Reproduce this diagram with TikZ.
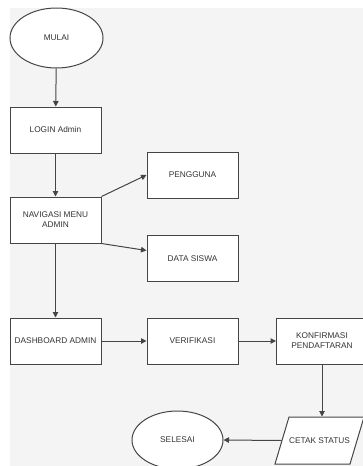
\documentclass[tikz,border=0pt]{standalone}
\usepackage{fontspec}
\setmainfont{Liberation Sans}
\usetikzlibrary{shapes.geometric, arrows.meta}
\definecolor{garis}{HTML}{454545}
\definecolor{teks}{HTML}{333333}
\definecolor{latar}{HTML}{F4F4F4}

\tikzset{
    proses/.style={draw=garis, fill=white, line width=1pt, minimum width=91pt, minimum height=46pt,
        inner sep=1pt, align=center, text=teks, font=\fontsize{8.3}{10}\selectfont},
    terminal/.style={proses, ellipse},
    dataio/.style={proses, draw=none, fill=none, minimum width=89pt, minimum height=47pt},
    panah/.style={draw=garis, line width=1pt, -{Triangle[length=5.5pt, width=5.5pt]}}
}

\begin{document}
\begin{tikzpicture}[x=1pt, y=-1pt]
                \useasboundingbox (0,0) rectangle (363,466);
                \fill[latar] (10,8) rectangle (363,466);
                \node[terminal, minimum width=93pt, minimum height=60pt] (mulai) at (56.5,38) {MULAI};
                \node[proses] (login) at (55.5,130) {LOGIN Admin};
                \node[proses] (navigasi) at (55.5,220) {NAVIGASI MENU\\ADMIN};
                \node[proses] (pengguna) at (192.5,175) {PENGGUNA};
                \node[proses] (datasiswa) at (192.5,258.5) {DATA SISWA};
                \node[proses] (dashboard) at (55.5,341) {DASHBOARD ADMIN};
                \node[proses] (verifikasi) at (192.5,341) {VERIFIKASI};
                \node[proses] (konfirmasi) at (322,341) {KONFIRMASI\\PENDAFTARAN};
                % jajaran genjang untuk cetak status
                \filldraw[fill=white, draw=garis, line width=1pt] (289,417) -- (364,417) -- (350,464) -- (275,464) -- cycle;
                \node[dataio] (cetak) at (319.5,440.5) {CETAK STATUS};
                \node[terminal, minimum width=91pt, minimum height=58pt] (selesai) at (177.5,440) {SELESAI};
                \draw[panah] (mulai) -- (login);
                \draw[panah] (login) -- (navigasi);
                \draw[panah] (navigasi.north east) -- (pengguna.west);
                \draw[panah] (navigasi.south east) -- ([yshift=8pt]datasiswa.west);
                \draw[panah] (navigasi) -- (dashboard);
                \draw[panah] (dashboard) -- (verifikasi);
                \draw[panah] (verifikasi) -- (konfirmasi);
                \draw[panah] (konfirmasi.south) -- (konfirmasi.south |- cetak.north);
                \draw[panah] ([xshift=7pt]cetak.west) -- (selesai.east);
            \end{tikzpicture}
\end{document}
